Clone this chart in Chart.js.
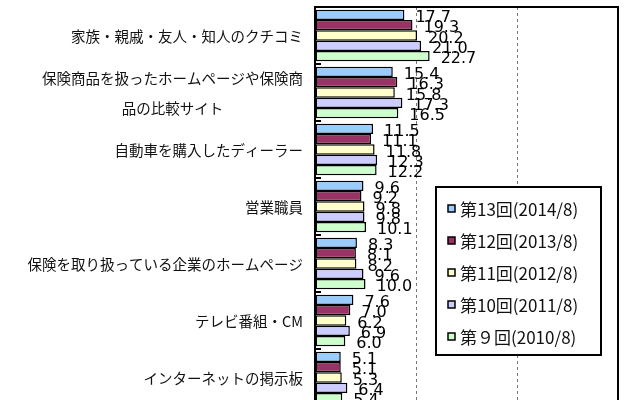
<!DOCTYPE html>
<html>
<head>
<meta charset="utf-8">
<script src="https://cdn.jsdelivr.net/npm/chart.js@4/dist/chart.umd.min.js"></script>
<style>
  html, body { margin: 0; padding: 0; background: #fff; overflow: hidden; }
  #wrap { width: 640px; height: 420px; position: relative; }
</style>
</head>
<body>
<div id="wrap"><canvas id="chart"></canvas></div>
<script>
// ===== DATA =====
const categories = [
  "家族・親戚・友人・知人のクチコミ",
  ["保険商品を扱ったホームページや保険商", "品の比較サイト"],
  "自動車を購入したディーラー",
  "営業職員",
  "保険を取り扱っている企業のホームページ",
  "テレビ番組・CM",
  "インターネットの掲示板"
];
const seriesNames = ["第13回(2014/8)", "第12回(2013/8)", "第11回(2012/8)", "第10回(2011/8)", "第９回(2010/8)"];
const round13 = [17.7, 15.4, 11.5, 9.6, 8.3, 7.6, 5.1];
const round12 = [19.3, 16.3, 11.1, 9.2, 8.1, 7.0, 5.1];
const round11 = [20.2, 15.8, 11.8, 9.8, 8.2, 6.2, 5.3];
const round10 = [21.0, 17.3, 12.3, 9.8, 9.6, 6.9, 6.4];
const round9  = [22.7, 16.5, 12.2, 10.1, 10.0, 6.0, 5.4];
const xTicks = [0, 20, 40, 60];

const colors = ["#99CCFF", "#993366", "#FFFFCC", "#CCCCFF", "#CCFFCC"];
const seriesValues = [round13, round12, round11, round10, round9];

const JP_FONT = '"Noto Sans CJK JP", "Noto Sans", sans-serif';

// ===== PLUGINS =====
// value labels right of each bar
const valueLabels = {
  id: "valueLabels",
  afterDatasetsDraw(chart) {
    const ctx = chart.ctx;
    ctx.save();
    ctx.font = '16px "DejaVu Sans", sans-serif';
    ctx.fillStyle = "#000";
    ctx.textAlign = "left";
    ctx.textBaseline = "middle";
    chart.data.datasets.forEach((ds, di) => {
      chart.getDatasetMeta(di).data.forEach((bar, i) => {
        ctx.fillText(ds.data[i].toFixed(1), bar.x + 11, bar.y + 3);
      });
    });
    ctx.restore();
  }
};

// category labels, plot frame, inner ticks and legend box
const decorations = {
  id: "decorations",
  afterDraw(chart) {
    const ctx = chart.ctx;
    const area = chart.chartArea;
    const yScale = chart.scales.y;
    ctx.save();

    // frame
    ctx.strokeStyle = "#000";
    ctx.lineWidth = 2;
    ctx.strokeRect(area.left, area.top, area.right - area.left, area.bottom - area.top);

    // short inner ticks between categories
    const band = (area.bottom - area.top) / categories.length;
    for (let i = 1; i < categories.length; i++) {
      const y = yScale.getPixelForValue(i) - band / 2;
      ctx.beginPath();
      ctx.moveTo(area.left, y);
      ctx.lineTo(area.left + 6, y);
      ctx.stroke();
    }

    // category labels
    ctx.font = "14.5px " + JP_FONT;
    ctx.fillStyle = "#111";
    ctx.textBaseline = "middle";
    ctx.textAlign = "center";
    const rightEdge = area.left - 12;
    categories.forEach((label, i) => {
      const lines = Array.isArray(label) ? label : [label];
      const cy = yScale.getPixelForValue(i) + 1;
      const lh = 30;
      const maxW = Math.max(...lines.map(l => ctx.measureText(l).width));
      const center = rightEdge - maxW / 2;
      lines.forEach((line, li) => {
        ctx.fillText(line, center, cy + (li - (lines.length - 1) / 2) * lh);
      });
    });

    // legend
    const lx = 436, ly = 187, lw = 165, lh = 168;
    ctx.fillStyle = "#fff";
    ctx.fillRect(lx, ly, lw, lh);
    ctx.strokeStyle = "#000";
    ctx.lineWidth = 2;
    ctx.strokeRect(lx, ly, lw, lh);
    ctx.font = "17px " + JP_FONT;
    ctx.textAlign = "left";
    seriesNames.forEach((name, i) => {
      const y = ly + 22 + i * 32;
      ctx.fillStyle = colors[i];
      ctx.fillRect(lx + 12, y - 4, 7, 7);
      ctx.lineWidth = 1.5;
      ctx.strokeRect(lx + 12, y - 4, 7, 7);
      ctx.fillStyle = "#111";
      ctx.fillText(name, lx + 24, y + 1);
    });

    ctx.restore();
  }
};

// ===== CHART =====
const ctx = document.getElementById("chart").getContext("2d");
new Chart(ctx, {
  type: "bar",
  data: {
    labels: categories,
    datasets: seriesNames.map((name, i) => ({
      label: name,
      data: seriesValues[i],
      backgroundColor: colors[i],
      borderColor: "#000",
      borderWidth: 1.5,
      borderSkipped: false,
      categoryPercentage: 0.9,
      barPercentage: 1.0
    }))
  },
  options: {
    indexAxis: "y",
    responsive: true,
    maintainAspectRatio: false,
    animation: false,
    layout: { padding: { left: 307, top: 7, right: 22, bottom: 14 } },
    plugins: {
      legend: { display: false },
      tooltip: { enabled: false }
    },
    scales: {
      x: {
        min: xTicks[0],
        max: xTicks[xTicks.length - 1],
        afterBuildTicks: axis => { axis.ticks = xTicks.map(v => ({ value: v })); },
        ticks: { display: false },
        border: { display: false, dash: [3, 3] },
        grid: { color: "#777", lineWidth: 1, drawTicks: false }
      },
      y: {
        ticks: { display: false },
        border: { display: false },
        grid: { display: false }
      }
    }
  },
  plugins: [valueLabels, decorations]
});
</script>
</body>
</html>
